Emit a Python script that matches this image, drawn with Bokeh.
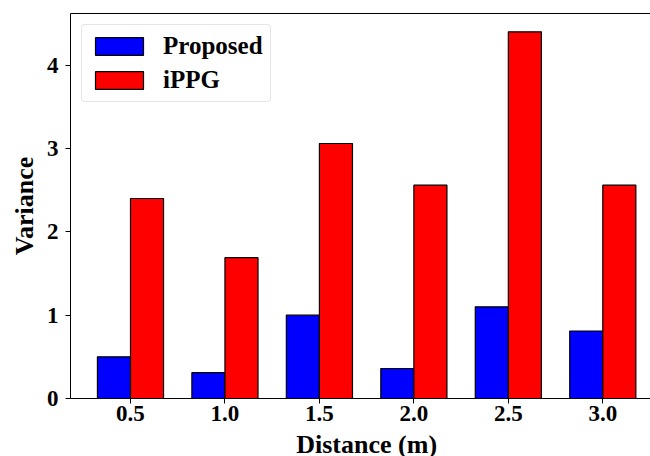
import numpy as np
from bokeh.plotting import figure
from bokeh.layouts import column
from bokeh.core.properties import value
from bokeh.models import (ColumnDataSource, Range1d, FixedTicker, LinearAxis,
                          Legend, LegendItem)
from bokeh.embed import file_html
from bokeh.resources import INLINE

distances = ["0.5", "1.0", "1.5", "2.0", "2.5", "3.0"]
proposed = [0.50, 0.31, 1.00, 0.36, 1.10, 0.81]
ippg = [2.40, 1.69, 3.06, 2.56, 4.40, 2.56]
y_ticks = [0, 1, 2, 3, 4]
x_label = "Distance (m)"
y_label = "Variance"

FONT = "Liberation Serif"
bar_w = 0.35
idx = np.arange(len(distances))

src = ColumnDataSource(dict(
    xp=idx - bar_w / 2, xi=idx + bar_w / 2, proposed=proposed, ippg=ippg))

xr = Range1d(-0.635, 5.505)
p = figure(width=650, height=432, output_backend="svg", toolbar_location=None,
           x_range=xr, y_range=Range1d(0, 4.62),
           min_border_left=70, min_border_top=13, min_border_bottom=34,
           min_border_right=0, outline_line_color=None)
p.xgrid.visible = False
p.ygrid.visible = False

rp = p.vbar(x="xp", top="proposed", width=bar_w, source=src,
            fill_color="#0000ff", line_color="black", line_width=1.2)
ri = p.vbar(x="xi", top="ippg", width=bar_w, source=src,
            fill_color="#ff0000", line_color="black", line_width=1.2)

for ax in (p.xaxis[0], p.yaxis[0]):
    ax.major_tick_in = 0
    ax.major_tick_out = 5
    ax.minor_tick_line_color = None
    ax.axis_line_color = "black"
    ax.major_tick_line_color = "black"
    ax.major_label_text_font = FONT
    ax.major_label_text_font_style = "bold"
    ax.major_label_text_font_size = "23px"
    ax.major_label_text_color = "black"

p.xaxis.ticker = FixedTicker(ticks=list(idx))
p.xaxis.major_label_overrides = {int(i): d for i, d in zip(idx, distances)}
p.xaxis.major_label_standoff = 2
p.yaxis.ticker = FixedTicker(ticks=y_ticks)
p.yaxis.major_label_standoff = 7
p.yaxis.axis_label = y_label
p.yaxis.axis_label_text_font = FONT
p.yaxis.axis_label_text_font_style = "bold"
p.yaxis.axis_label_text_font_size = "26px"
p.yaxis.axis_label_text_color = "black"
p.yaxis.axis_label_standoff = 5

top_axis = LinearAxis(ticker=FixedTicker(ticks=[]), major_tick_out=0,
                      major_tick_in=0, minor_tick_out=0,
                      major_label_text_font_size="0px",
                      axis_line_color="black")
p.add_layout(top_axis, "above")

legend = Legend(items=[LegendItem(label="Proposed", renderers=[rp]),
                       LegendItem(label="iPPG", renderers=[ri])],
                location=(11, 296), margin=0, padding=7, spacing=6,
                glyph_width=60, glyph_height=22, label_standoff=14,
                label_text_font=FONT, label_text_font_style="bold",
                label_text_font_size="25px", label_text_color="black",
                border_line_color="#cccccc", border_line_width=1,
                background_fill_alpha=0.8)
if "border_radius" in Legend.properties():
    legend.border_radius = 4
p.add_layout(legend, "center")

# strip below the chart holding the x-axis title
p2 = figure(width=650, height=24, output_backend="svg", toolbar_location=None,
            x_range=xr, y_range=Range1d(0, 1),
            min_border_left=70, min_border_right=0, min_border_top=0,
            min_border_bottom=0, outline_line_color=None)
p2.axis.visible = False
p2.xgrid.visible = False
p2.ygrid.visible = False
p2.text(x=[2.5], y=[1.0], text=[x_label], text_font=value(FONT),
        text_font_style="bold", text_font_size="26px", text_color="black",
        text_align="center", text_baseline="top", y_offset=-3)

layout = column(p, p2, spacing=0)
open("out.html", "w").write(file_html(layout, INLINE))
